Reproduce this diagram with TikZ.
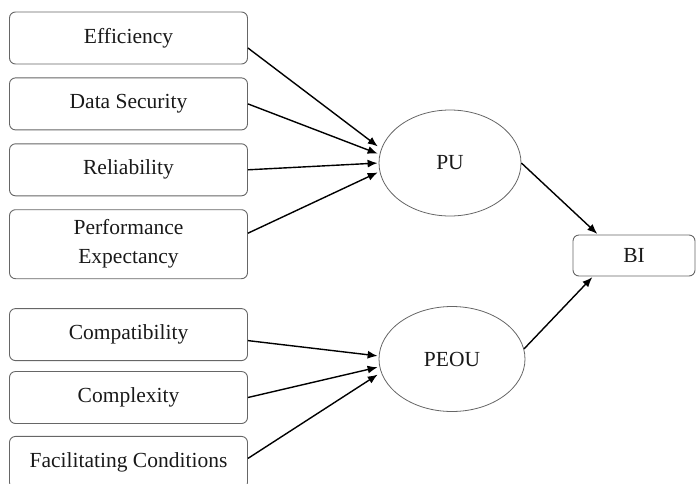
\documentclass[tikz,border=0pt]{standalone}
\usepackage{fontspec}
\setmainfont{Liberation Serif}
\usetikzlibrary{positioning,shapes.geometric,arrows.meta}

\begin{document}
\begin{tikzpicture}[x=1pt, y=-1pt, -{Latex[length=10pt,width=8pt]}, line width=1.4pt,
shorten >=1pt,
factor/.style ={rectangle, rounded corners=6pt, draw=black!60, line width=0.9pt,
  minimum width=238pt, minimum height=52pt, align=center, text=black!90,
  font=\rmfamily\fontsize{21.5}{29}\selectfont},
latent/.style ={ellipse, draw=black!60, line width=0.8pt, inner sep=0pt,
  minimum height=106pt, text=black!90, font=\rmfamily\fontsize{21.5}{29}\selectfont}]
\useasboundingbox (0,0) rectangle (696,483);
% antecedents
\node[factor] (Eff) at (128.5,38) {Efficiency};
\node[factor] (DS) [below=13pt of Eff] {Data Security};
\node[factor] (Rel) [below=13pt of DS] {Reliability};
\node[factor, minimum height=69pt] (PE) [below=13pt of Rel] {Performance\\Expectancy};
\node[factor] (Comp) [below=29pt of PE] {Compatibility};
\node[factor] (Cx) [below=10pt of Comp] {Complexity};
\node[factor] (FC) [below=12pt of Cx] {Facilitating Conditions};
% constructs
\node[latent, minimum width=142pt] (PU) at (450,163) {PU};
\node[latent, minimum width=146pt, minimum height=105pt] (PEOU) at (452,359) {PEOU};
\node[factor, minimum width=122pt, minimum height=41pt] (BI) at (634,255.5) {BI};
% paths
\draw ([yshift=-10pt]Eff.east) -- ([yshift=16pt]PU.west);
\draw (DS.east) -- ([yshift=9pt]PU.west);
\draw (Rel.east) -- (PU.west);
\draw ([yshift=11pt]PE.east) -- ([yshift=-9pt]PU.west);
\draw ([yshift=-6pt]Comp.east) -- ([yshift=3pt]PEOU.west);
\draw (Cx.east) -- ([yshift=-8pt]PEOU.west);
\draw ([yshift=4pt]FC.east) -- ([yshift=-15pt]PEOU.west);
\draw (PU.east) -- ([xshift=-36pt]BI.north);
\draw (PEOU.8) -- ([xshift=-41pt]BI.south);
\end{tikzpicture}
\end{document}
